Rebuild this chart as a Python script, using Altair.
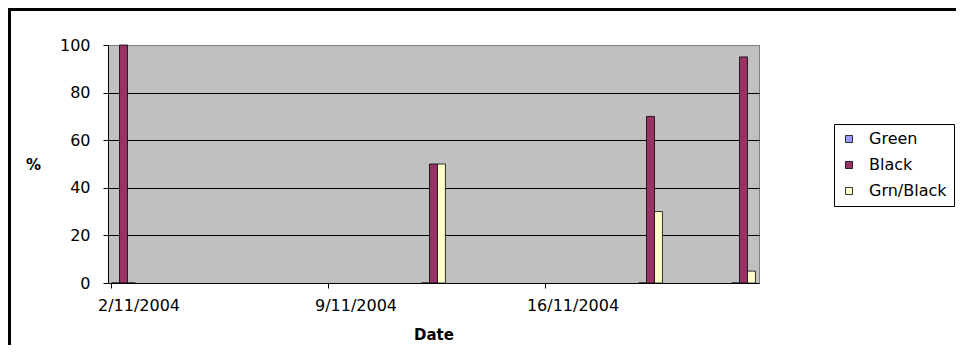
import altair as alt
import pandas as pd

# ---- data ----
days = [f"{d}/11/2004" for d in range(2, 23)]          # daily category slots on the axis
dates = ["2/11/2004", "12/11/2004", "19/11/2004", "22/11/2004"]
series = ["Green", "Black", "Grn/Black"]
green = [0, 0, 0, 0]
black = [100, 50, 70, 95]
grn_black = [0, 50, 30, 5]
x_labels = ["2/11/2004", "9/11/2004", "16/11/2004"]
y_ticks = [0, 20, 40, 60, 80, 100]
colors = ["#9999FF", "#993366", "#FFFFCC"]

rows = []
for i, d in enumerate(dates):
    for s, vals in zip(series, [green, black, grn_black]):
        rows.append({"Date": d, "Series": s, "Pct": vals[i]})
df = pd.DataFrame(rows)

W, H = 651, 238
PAD = {"left": 100, "top": 37, "right": 197, "bottom": 62}
FONT = "DejaVu Sans"

bars = alt.Chart(df).mark_bar(stroke="black", strokeWidth=0.8).encode(
    x=alt.X(
        "Date:N",
        sort=days,
        scale=alt.Scale(domain=days, paddingInner=0.23, paddingOuter=0.115),
        axis=alt.Axis(
            values=x_labels, bandPosition=0, labelOffset=15.5, labelAngle=0,
            labelOverlap=False, labelFlush=False,
            title="Date", titleFontWeight="bold", titleFontSize=15, titleFont=FONT,
            titleBaseline="middle", titleY=51,
            labelFont=FONT, labelFontSize=16, labelColor="black", labelPadding=9,
            domainColor="black", tickColor="black", tickSize=5, grid=False,
        ),
    ),
    xOffset=alt.XOffset(
        "Series:N", sort=series,
        scale=alt.Scale(domain=series, paddingInner=0, paddingOuter=0),
    ),
    y=alt.Y(
        "Pct:Q",
        scale=alt.Scale(domain=[0, 100], nice=False),
        axis=alt.Axis(
            values=y_ticks, title="%", titleAngle=0, titleX=-75, titleY=119,
            titleAlign="center", titleBaseline="middle",
            titleFontWeight="bold", titleFontSize=15, titleFont=FONT,
            labelFont=FONT, labelFontSize=16, labelColor="black", labelPadding=13,
            domainColor="black", tickColor="black", tickSize=5,
            grid=True,
            gridColor={"condition": {"test": "datum.value === 100", "value": "#808080"},
                       "value": "#000000"},
            gridWidth=1,
        ),
    ),
    color=alt.Color(
        "Series:N", sort=series,
        scale=alt.Scale(domain=series, range=colors),
        legend=alt.Legend(
            title=None, orient="none", legendX=726, legendY=79,
            strokeColor="black", fillColor="white", padding=7, rowPadding=10,
            labelFont=FONT, labelFontSize=16, labelColor="black", labelOffset=12,
            symbolType="square", symbolSize=50,
            symbolStrokeColor="black", symbolStrokeWidth=0.8,
        ),
    ),
)

frame = alt.Chart(pd.DataFrame({"a": [0]})).mark_rect(
    fill="transparent", stroke="black", strokeWidth=3
).encode(
    x=alt.value(-PAD["left"] + 1.5),
    x2=alt.value(W + PAD["right"] + 20),
    y=alt.value(-PAD["top"] + 1.5),
    y2=alt.value(H + PAD["bottom"] + 20),
)

chart = alt.layer(bars, frame).properties(
    width=W, height=H,
    autosize=alt.AutoSizeParams(type="none"),
    padding=PAD,
    background="white",
).configure_view(fill="#C0C0C0", stroke="#808080")

chart.save("out.html", embed_options={"renderer": "svg", "actions": False})
